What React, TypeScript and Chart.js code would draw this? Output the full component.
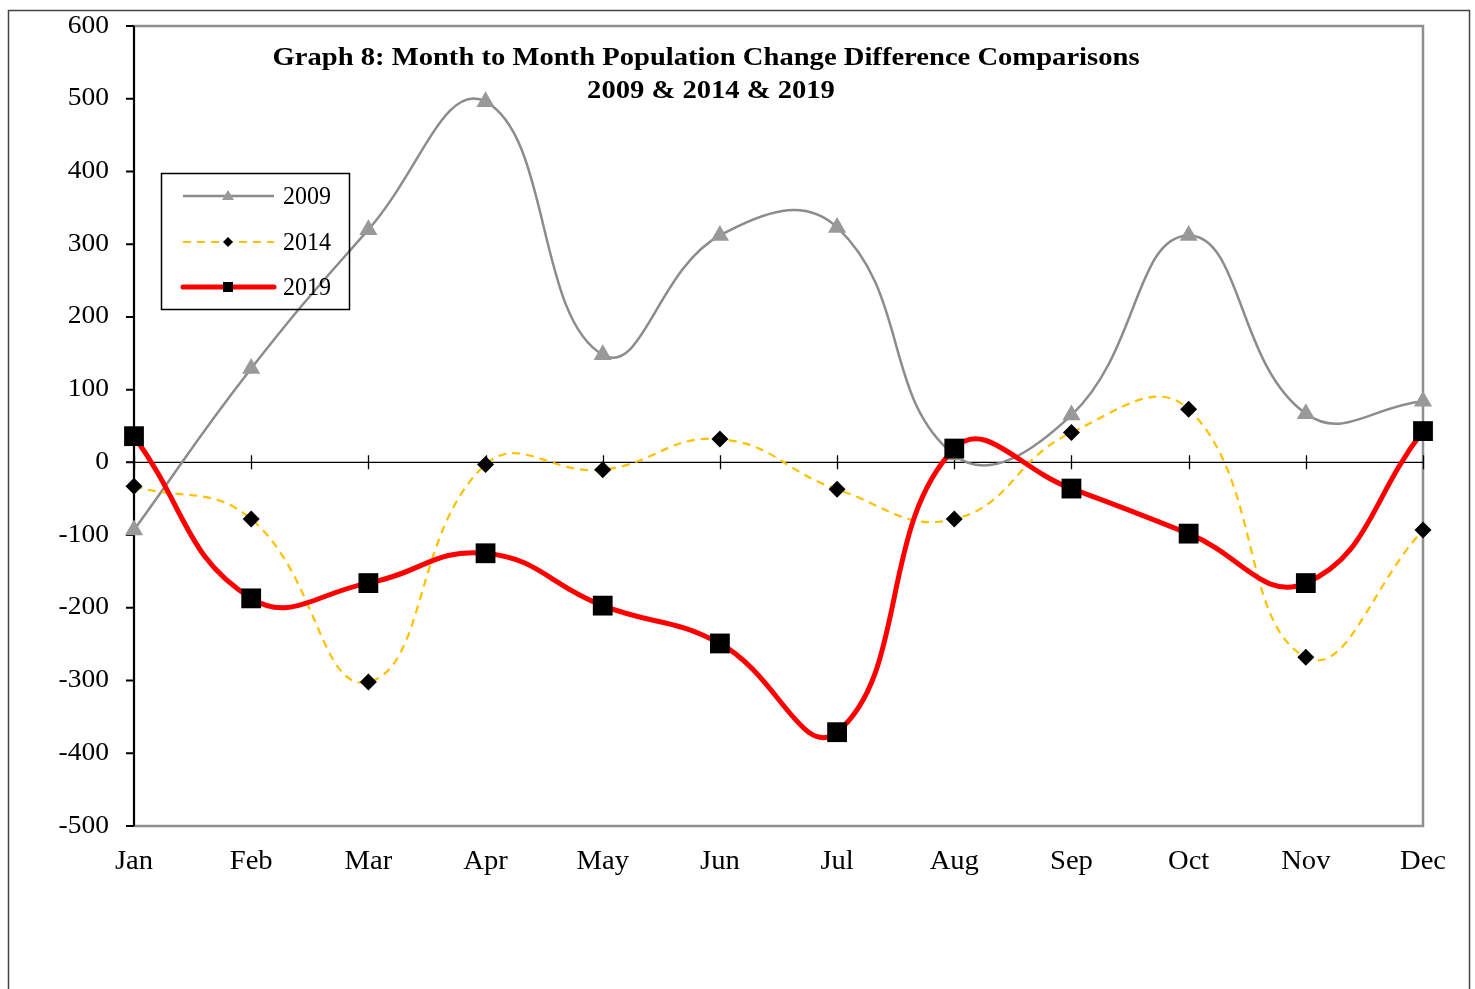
import React, { useEffect, useRef } from "react";
import { Chart, registerables } from "chart.js";

Chart.register(...registerables);

const months = ["Jan", "Feb", "Mar", "Apr", "May", "Jun", "Jul", "Aug", "Sep", "Oct", "Nov", "Dec"];
const series2009 = [-93, 129, 320, 496, 148, 312, 323, 10, 65, 312, 67, 84];
const series2014 = [-33, -78, -302, -3, -10, 32, -37, -78, 41, 73, -268, -93];
const series2019 = [36, -187, -166, -125, -197, -249, -371, 19, -36, -98, -166, 43];
const yTicks = [600, 500, 400, 300, 200, 100, 0, -100, -200, -300, -400, -500];
const titleLines = ["Graph 8: Month to Month Population Change Difference Comparisons", "2009 & 2014 & 2019"];
const yMin = -500;
const yMax = 600;

const FONT = '"Liberation Serif", "Times New Roman", serif';

function stretchedText(ctx: any, text: string, x: number, y: number, sx: number, align: "left" | "center" | "right") {
  ctx.save();
  ctx.translate(x, y);
  ctx.scale(sx, 1);
  ctx.textAlign = align;
  ctx.textBaseline = "middle";
  ctx.fillText(text, 0, 0);
  ctx.restore();
}

const decorPlugin = {
  id: "decor",
  beforeDraw(chart: any) {
    const { ctx, chartArea, scales } = chart;
    ctx.save();
    ctx.fillStyle = "#fff";
    ctx.fillRect(0, 0, chart.width, chart.height);
    // outer frame
    ctx.strokeStyle = "#444";
    ctx.lineWidth = 1.5;
    ctx.strokeRect(8.5, 10.5, 1461, 1000);
    // plot area frame (gray)
    ctx.strokeStyle = "#8f8f8f";
    ctx.lineWidth = 2.5;
    ctx.strokeRect(chartArea.left, chartArea.top, chartArea.right - chartArea.left, chartArea.bottom - chartArea.top);
    // y ticks and labels
    ctx.strokeStyle = "#000";
    ctx.lineWidth = 2;
    ctx.beginPath();
    for (const v of yTicks) {
      const y = scales.y.getPixelForValue(v);
      ctx.moveTo(chartArea.left - 8, y);
      ctx.lineTo(chartArea.left, y);
    }
    ctx.stroke();
    ctx.fillStyle = "#000";
    ctx.font = `25px ${FONT}`;
    for (const v of yTicks) {
      const y = scales.y.getPixelForValue(v);
      stretchedText(ctx, String(v), chartArea.left - 25, y, 1.1, "right");
    }
    // x labels
    ctx.font = `27px ${FONT}`;
    for (let i = 0; i < months.length; i++) {
      const x = scales.x.getPixelForValue(i);
      stretchedText(ctx, months[i], x, chartArea.bottom + 36, 1.06, "center");
    }
    ctx.restore();
  },
  beforeDatasetsDraw(chart: any) {
    const { ctx, chartArea, scales } = chart;
    const y0 = scales.y.getPixelForValue(0);
    ctx.save();
    ctx.strokeStyle = "#000";
    ctx.lineWidth = 1.3;
    ctx.beginPath();
    ctx.moveTo(chartArea.left - 8, y0);
    ctx.lineTo(chartArea.right, y0);
    for (let i = 0; i < months.length; i++) {
      const x = Math.round(scales.x.getPixelForValue(i)) + 0.5;
      ctx.moveTo(x, y0 - 7);
      ctx.lineTo(x, y0 + 7);
    }
    ctx.stroke();
    // left axis line
    ctx.lineWidth = 2;
    ctx.beginPath();
    ctx.moveTo(chartArea.left, chartArea.top);
    ctx.lineTo(chartArea.left, chartArea.bottom);
    ctx.stroke();
    ctx.restore();
  },
  afterDraw(chart: any) {
    const { ctx } = chart;
    ctx.save();
    // title
    ctx.fillStyle = "#000";
    ctx.font = `bold 26px ${FONT}`;
    stretchedText(ctx, titleLines[0], 706, 58, 1.1, "center");
    stretchedText(ctx, titleLines[1], 711, 91, 1.1, "center");
    // legend
    ctx.strokeStyle = "#000";
    ctx.lineWidth = 1.5;
    ctx.strokeRect(161.5, 173.5, 188, 136);
    const rows = [
      { label: "2009", y: 196, color: "#8c8c8c", width: 2.5, dash: [] as number[], marker: "tri" },
      { label: "2014", y: 242, color: "#ffc000", width: 2.2, dash: [8, 6], marker: "diamond" },
      { label: "2019", y: 287, color: "#ff0000", width: 5, dash: [] as number[], marker: "square" },
    ];
    for (const r of rows) {
      ctx.strokeStyle = r.color;
      ctx.lineWidth = r.width;
      ctx.lineCap = r.marker === "square" ? "round" : "butt";
      ctx.setLineDash(r.dash);
      ctx.beginPath();
      ctx.moveTo(183, r.y);
      ctx.lineTo(274, r.y);
      ctx.stroke();
      ctx.setLineDash([]);
      const mx = 228;
      if (r.marker === "tri") {
        ctx.fillStyle = "#999";
        ctx.beginPath();
        ctx.moveTo(mx, r.y - 6);
        ctx.lineTo(mx + 6, r.y + 4);
        ctx.lineTo(mx - 6, r.y + 4);
        ctx.closePath();
        ctx.fill();
      } else if (r.marker === "diamond") {
        ctx.fillStyle = "#000";
        ctx.beginPath();
        ctx.moveTo(mx, r.y - 5);
        ctx.lineTo(mx + 5, r.y);
        ctx.lineTo(mx, r.y + 5);
        ctx.lineTo(mx - 5, r.y);
        ctx.closePath();
        ctx.fill();
      } else {
        ctx.fillStyle = "#000";
        ctx.fillRect(mx - 5, r.y - 5, 10, 10);
      }
      ctx.fillStyle = "#000";
      ctx.font = `25px ${FONT}`;
      stretchedText(ctx, r.label, 283, r.y + 1, 0.96, "left");
    }
    ctx.restore();
  },
};

export default function App() {
  const ref = useRef<HTMLCanvasElement>(null);
  useEffect(() => {
    document.body.style.margin = "0";
    const chart = new Chart(ref.current!, {
      type: "line",
      data: {
        labels: months,
        datasets: [
          {
            label: "2009",
            data: series2009,
            borderColor: "#8c8c8c",
            borderWidth: 2.5,
            pointStyle: "triangle",
            pointRadius: 10.5,
            pointBackgroundColor: "#999",
            pointBorderColor: "#999",
            pointBorderWidth: 0,
            tension: 0.45,
            clip: false,
            order: 2,
          },
          {
            label: "2014",
            data: series2014,
            borderColor: "#ffc000",
            borderWidth: 2.2,
            borderDash: [8, 6],
            pointStyle: "rectRot",
            pointRadius: 8.5,
            pointBackgroundColor: "#000",
            pointBorderColor: "#000",
            pointBorderWidth: 0,
            tension: 0.45,
            clip: false,
            order: 1,
          },
          {
            label: "2019",
            data: series2019,
            borderColor: "#ff0000",
            borderWidth: 5,
            pointStyle: "rect",
            pointRadius: 14,
            pointBackgroundColor: "#000",
            pointBorderColor: "#000",
            pointBorderWidth: 0,
            tension: 0.45,
            clip: false,
            order: 0,
          },
        ],
      },
      options: {
        responsive: false,
        animation: false,
        devicePixelRatio: 1,
        layout: { padding: { left: 134, top: 26, right: 52, bottom: 163 } },
        plugins: { legend: { display: false }, title: { display: false }, tooltip: { enabled: false } },
        scales: {
          x: { type: "category", offset: false, display: false },
          y: { min: yMin, max: yMax, display: false },
        },
      },
      plugins: [decorPlugin],
    });
    return () => chart.destroy();
  }, []);
  return (
    <div style={{ width: 1475, height: 989 }}>
      <canvas ref={ref} width={1475} height={989} style={{ display: "block" }} />
    </div>
  );
}
